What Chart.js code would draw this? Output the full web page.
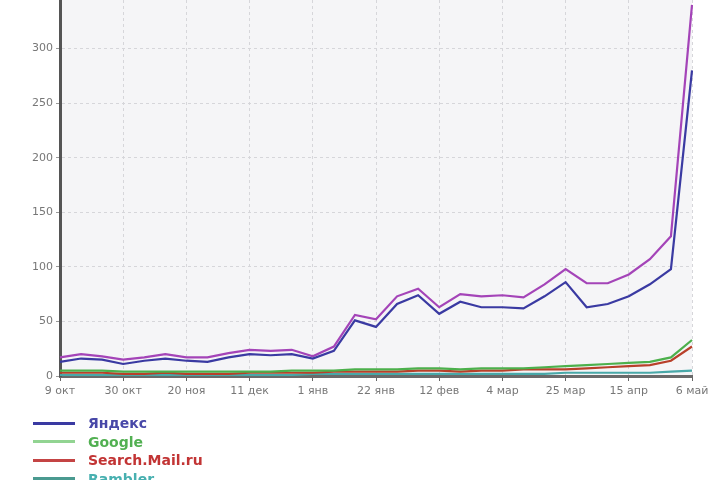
<!DOCTYPE html>
<html>
<head>
<meta charset="utf-8">
<script src="https://cdn.jsdelivr.net/npm/chart.js@4"></script>
<style>
  html, body { margin: 0; padding: 0; background: #fff; width: 720px; height: 480px; overflow: hidden; }
  #wrap { position: absolute; left: 0; top: -16px; width: 720px; height: 432px; }
  #legend { position: absolute; left: 33px; top: 414px; font-family: "DejaVu Sans", sans-serif; font-size: 14px; font-weight: bold; }
  .item { height: 18.5px; display: flex; align-items: center; }
  .swatch { width: 42px; height: 3px; margin-right: 13px; }
</style>
</head>
<body>
<div id="wrap"><canvas id="chart"></canvas></div>
<div id="legend"></div>
<script>
// weekly dates
const weeks = ['9 окт', '16 окт', '23 окт', '30 окт', '6 ноя', '13 ноя', '20 ноя', '27 ноя', '4 дек', '11 дек',
  '18 дек', '25 дек', '1 янв', '8 янв', '15 янв', '22 янв', '29 янв', '5 фев', '12 фев', '19 фев',
  '26 фев', '4 мар', '11 мар', '18 мар', '25 мар', '1 апр', '8 апр', '15 апр', '22 апр', '29 апр', '6 май'];
const yTicks = [0, 50, 100, 150, 200, 250, 300, 350];

const yandex = [13, 16, 15, 11, 14, 16, 14, 13, 17, 20, 19, 20, 16, 23, 51, 45, 66, 74, 57, 68, 63, 63, 62, 73, 86, 63, 66, 73, 84, 98, 280];
const total = [17, 20, 18, 15, 17, 20, 17, 17, 21, 24, 23, 24, 18, 27, 56, 52, 73, 80, 63, 75, 73, 74, 72, 84, 98, 85, 85, 93, 107, 128, 340];
const google = [5, 5, 5, 4, 4, 4, 4, 4, 4, 4, 4, 5, 5, 5, 6, 6, 6, 7, 7, 6, 7, 7, 7, 8, 9, 10, 11, 12, 13, 17, 33];
const mail = [3, 3, 3, 2, 2, 3, 2, 2, 2, 3, 3, 3, 3, 4, 4, 4, 4, 5, 5, 4, 5, 5, 6, 6, 6, 7, 8, 9, 10, 14, 27];
const rambler = [1, 1, 1, 1, 1, 1, 1, 1, 1, 1, 1, 1, 2, 2, 2, 2, 2, 2, 2, 2, 2, 2, 2, 2, 3, 3, 3, 3, 3, 4, 5];

const series = [
  { name: 'Яндекс', data: yandex, line: '#3a3aa2', text: '#4848a8', key: '#3a3aa2' },
  { name: 'Google', data: google, line: '#4cb04c', text: '#52b052', key: '#92d492' },
  { name: 'Search.Mail.ru', data: mail, line: '#b8402a', text: '#c23434', key: '#c44444' },
  { name: 'Rambler', data: rambler, line: '#48a8a8', text: '#48b0b0', key: '#4a9a90' },
  { name: 'Всего', data: total, line: '#a444b8', text: '#a444b8', key: '#a444b8' }
];

const bgPlugin = {
  id: 'bg',
  beforeDraw(chart) {
    const a = chart.chartArea;
    const c = chart.ctx;
    c.save();
    c.fillStyle = '#f5f5f7';
    c.fillRect(a.left, a.top, a.right - a.left, a.bottom - a.top);
    c.restore();
  }
};

const every3 = (i) => i % 3 === 0;

new Chart(document.getElementById('chart'), {
  type: 'line',
  data: {
    labels: weeks,
    datasets: series.map(s => ({
      label: s.name,
      data: s.data,
      borderColor: s.line,
      borderWidth: 2.2,
      pointRadius: 0,
      tension: 0,
      fill: false
    }))
  },
  options: {
    responsive: true,
    maintainAspectRatio: false,
    animation: false,
    layout: { padding: { top: 10, right: 28, left: 0, bottom: 0 } },
    plugins: { legend: { display: false }, tooltip: { enabled: false } },
    scales: {
      x: {
        afterFit: (s) => { s.height = 40; },
        border: { color: '#6a6a6a', width: 3, dash: [3, 3] },
        grid: {
          color: (ctx) => every3(ctx.index) ? '#d6d6da' : 'rgba(0,0,0,0)',
          tickColor: (ctx) => every3(ctx.index) ? '#666' : 'rgba(0,0,0,0)',
          tickLength: 5,
          lineWidth: 1
        },
        ticks: {
          autoSkip: false,
          maxRotation: 0,
          padding: 4,
          color: '#777',
          font: { family: 'DejaVu Sans', size: 11 },
          callback: function (v, i) { return every3(i) ? weeks[i] : ''; }
        }
      },
      y: {
        min: 0,
        max: 350,
        afterFit: (s) => { s.width = 60; },
        afterBuildTicks: (s) => { s.ticks = yTicks.map(v => ({ value: v })); },
        border: { color: '#555', width: 3, dash: [3, 3] },
        grid: { color: '#d6d6da', tickColor: '#999', tickLength: 4 },
        ticks: {
          color: '#777',
          padding: 3,
          font: { family: 'DejaVu Sans', size: 11 }
        }
      }
    }
  },
  plugins: [bgPlugin]
});

// legend built from the series list
const legend = document.getElementById('legend');
series.forEach(s => {
  const row = document.createElement('div');
  row.className = 'item';
  const sw = document.createElement('div');
  sw.className = 'swatch';
  sw.style.background = s.key;
  const tx = document.createElement('span');
  tx.textContent = s.name;
  tx.style.color = s.text;
  row.appendChild(sw);
  row.appendChild(tx);
  legend.appendChild(row);
});
</script>
</body>
</html>
